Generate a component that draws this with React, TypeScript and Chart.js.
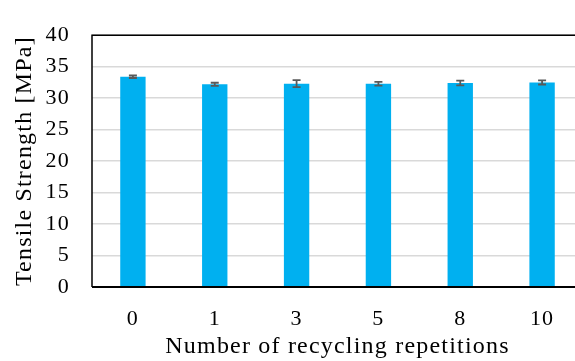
import React, { useEffect, useRef } from "react";
import { Chart, registerables } from "chart.js";

Chart.register(...registerables);

const repetitions = ["0", "1", "3", "5", "8", "10"];
const strength = [33.4, 32.2, 32.3, 32.3, 32.4, 32.5];
const strengthError = [0.2, 0.25, 0.55, 0.3, 0.37, 0.33];
const yTicks = [0, 5, 10, 15, 20, 25, 30, 35, 40];

const FONT = "'Liberation Serif', 'DejaVu Serif', serif";
const TICK_SIZE = 22;
const TITLE_SIZE = 24;
const LETTER_SPACING = "1.2px";

// Slightly open letter spacing for all chart text; re-applied since a canvas resize resets context state.
const spacing = {
  id: "spacing",
  beforeLayout(chart: any) {
    chart.ctx.letterSpacing = LETTER_SPACING;
  },
  beforeDraw(chart: any) {
    chart.ctx.letterSpacing = LETTER_SPACING;
  },
};

const errorBars = {
  id: "errorBars",
  afterDatasetsDraw(chart: any) {
    const { ctx, scales } = chart;
    const meta = chart.getDatasetMeta(0);
    ctx.save();
    ctx.strokeStyle = "#595959";
    ctx.lineWidth = 1.8;
    meta.data.forEach((bar: any, i: number) => {
      const x = bar.x;
      const hi = scales.y.getPixelForValue(strength[i] + strengthError[i]);
      const lo = scales.y.getPixelForValue(strength[i] - strengthError[i]);
      const cap = 4;
      ctx.beginPath();
      ctx.moveTo(x, hi);
      ctx.lineTo(x, lo);
      ctx.moveTo(x - cap, hi);
      ctx.lineTo(x + cap, hi);
      ctx.moveTo(x - cap, lo);
      ctx.lineTo(x + cap, lo);
      ctx.stroke();
    });
    ctx.restore();
  },
};

// Black frame on the top and left edges of the plot, thicker base line.
const frame = {
  id: "frame",
  afterDatasetsDraw(chart: any) {
    const { ctx, chartArea } = chart;
    const { left, right, top, bottom } = chartArea;
    ctx.save();
    ctx.strokeStyle = "#000";
    ctx.lineWidth = 1.5;
    ctx.beginPath();
    ctx.moveTo(left, bottom);
    ctx.lineTo(left, top);
    ctx.lineTo(right, top);
    ctx.lineTo(right, bottom);
    ctx.stroke();
    ctx.lineWidth = 2;
    ctx.beginPath();
    ctx.moveTo(left, bottom);
    ctx.lineTo(right, bottom);
    ctx.stroke();
    ctx.restore();
  },
};

export default function App() {
  const ref = useRef<HTMLCanvasElement>(null);

  useEffect(() => {
    if (!ref.current) return;
    const chart = new Chart(ref.current, {
      type: "bar",
      data: {
        labels: repetitions,
        datasets: [
          {
            data: strength,
            backgroundColor: "#00B0F0",
            borderWidth: 0,
            barPercentage: 0.62,
            categoryPercentage: 0.5,
          },
        ],
      },
      options: {
        animation: false,
        responsive: false,
        devicePixelRatio: 1,
        layout: { padding: { top: 22, right: 18, left: 0, bottom: 0 } },
        plugins: {
          legend: { display: false },
          tooltip: { enabled: false },
        },
        scales: {
          x: {
            grid: { display: false, drawTicks: false },
            border: { display: false },
            ticks: {
              color: "#000",
              padding: 19,
              font: { family: FONT, size: TICK_SIZE },
            },
            title: {
              display: true,
              text: "Number of recycling repetitions",
              color: "#000",
              padding: { top: 0, bottom: 0 },
              font: { family: FONT, size: TITLE_SIZE },
            },
            afterFit(scale: any) {
              scale.height = 74;
            },
          },
          y: {
            min: 0,
            max: 40,
            afterBuildTicks(scale: any) {
              scale.ticks = yTicks.map((v) => ({ value: v }));
            },
            grid: { color: "#D9D9D9", lineWidth: 1.5, drawTicks: false },
            border: { display: false },
            ticks: {
              color: "#000",
              padding: 22,
              font: { family: FONT, size: TICK_SIZE },
            },
            title: {
              display: true,
              text: "Tensile Strength [MPa]",
              color: "#000",
              padding: { top: 10, bottom: 0 },
              font: { family: FONT, size: TITLE_SIZE },
            },
            afterFit(scale: any) {
              scale.width = 92;
            },
          },
        },
      },
      plugins: [spacing, errorBars, frame],
    });
    return () => chart.destroy();
  }, []);

  return (
    <div style={{ position: "absolute", left: 0, top: 0, width: 601, height: 361, overflow: "hidden" }}>
      <canvas ref={ref} width={601} height={361} style={{ display: "block" }} />
    </div>
  );
}
